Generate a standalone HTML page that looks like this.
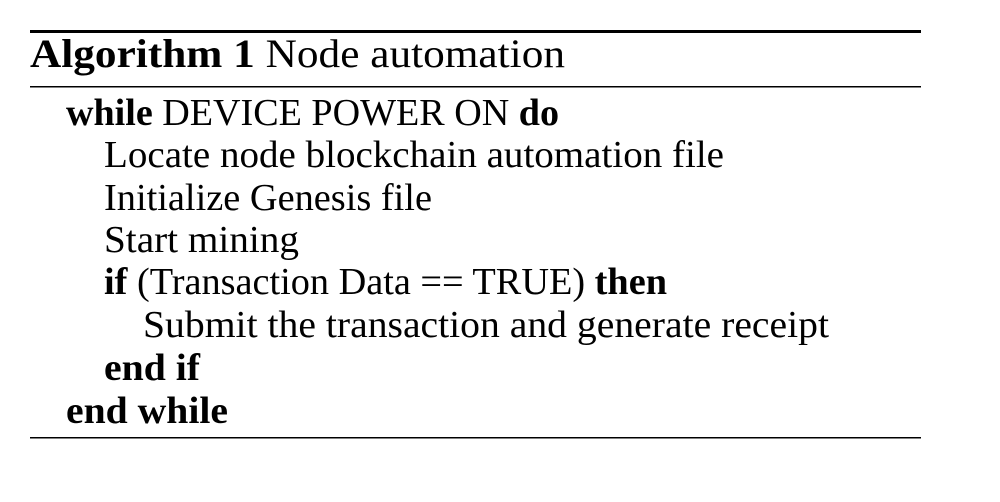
<!DOCTYPE html>
<html><head><meta charset="utf-8"><style>
html,body{margin:0;padding:0;background:#fff;width:1000px;height:502px;overflow:hidden}
svg text{font-family:"Liberation Serif",serif;font-size:38px;fill:#000}
.b{font-weight:bold}
</style></head><body>
<svg width="1000" height="502" viewBox="0 0 1000 502" xmlns="http://www.w3.org/2000/svg">
<rect x="30" y="30" width="891" height="3" fill="#000"/>
<rect x="30" y="86" width="891" height="1.5" fill="#000"/>
<rect x="30" y="437" width="891" height="1.5" fill="#000"/>
<text x="30" y="67" textLength="535" lengthAdjust="spacingAndGlyphs" style="font-size:40px"><tspan class="b">Algorithm 1</tspan> Node automation</text>
<text x="66" y="125" textLength="493" lengthAdjust="spacingAndGlyphs"><tspan class="b">while</tspan> DEVICE POWER ON <tspan class="b">do</tspan></text>
<text x="104" y="167" textLength="620" lengthAdjust="spacingAndGlyphs">Locate node blockchain automation file</text>
<text x="104" y="210" textLength="328" lengthAdjust="spacingAndGlyphs">Initialize Genesis file</text>
<text x="104" y="252" textLength="195" lengthAdjust="spacingAndGlyphs">Start mining</text>
<text x="104" y="294" textLength="563" lengthAdjust="spacingAndGlyphs"><tspan class="b">if</tspan> (Transaction Data == TRUE) <tspan class="b">then</tspan></text>
<text x="143" y="337" textLength="686" lengthAdjust="spacingAndGlyphs">Submit the transaction and generate receipt</text>
<text x="104" y="380" textLength="96" lengthAdjust="spacingAndGlyphs" class="b">end if</text>
<text x="66" y="423" textLength="162" lengthAdjust="spacingAndGlyphs" class="b">end while</text>
</svg>
</body></html>
